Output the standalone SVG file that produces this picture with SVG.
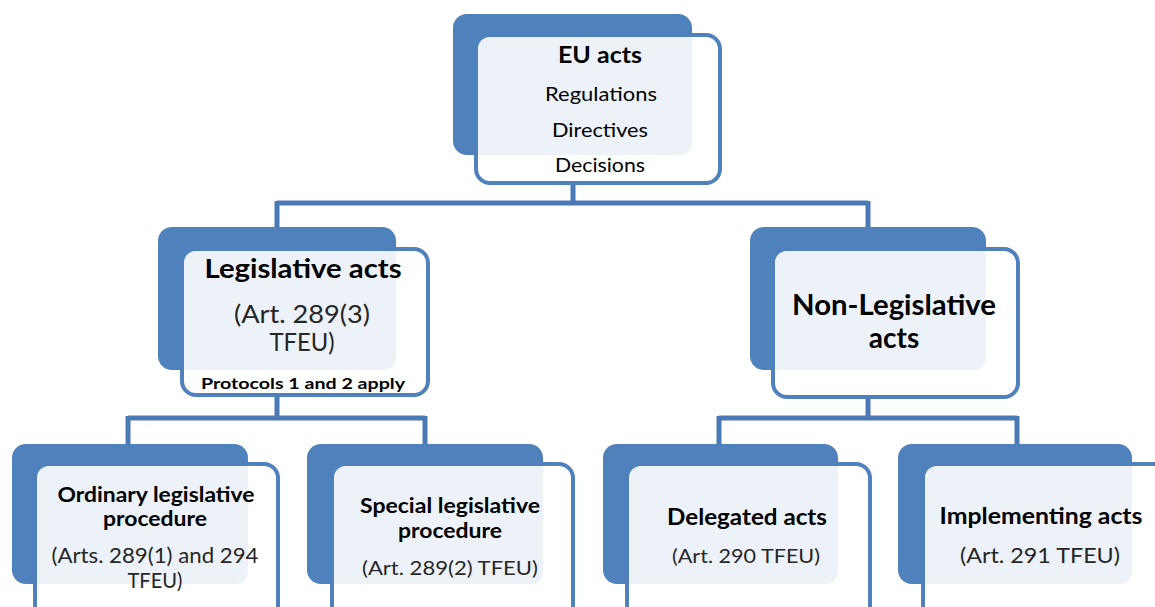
<svg xmlns="http://www.w3.org/2000/svg" width="1155" height="607" viewBox="0 0 1155 607">
<style>
.back{fill:#4F81BD}
.front{fill:#FFFFFF;stroke:#4F81BD;stroke-width:4}
.pale{fill:#EDF2F9}
.conn{fill:none;stroke:#4A7AB5;stroke-width:5}
text{font-family:Lato,"Liberation Sans",sans-serif;text-anchor:middle}
.b{font-weight:bold;fill:#000}
.r{fill:#000}
.n{fill:#262626}
</style>
<rect width="1155" height="607" fill="#FFFFFF"/>
<g id="connectors">
<path class="conn" d="M573 183 V203 M277 203 H868 M277 201 V230 M868 201 V230"/>
<path class="conn" d="M277 395 V418 M128 418 H425 M128 416 V444 M425 416 V444"/>
<path class="conn" d="M868 397 V418 M719 418 H1017 M719 416 V444 M1017 416 V444"/>
</g>
<g id="eu-acts">
<rect class="back" x="453" y="14" width="239" height="141" rx="14"/>
<rect class="front" x="476" y="35" width="244" height="148" rx="14"/>
<path class="pale" d="M492 37 H692 V141 Q692 155 678 155 H478 V51 Q478 37 492 37 Z"/>
<text class="b" x="600" y="63" font-size="23" textLength="84" lengthAdjust="spacingAndGlyphs">EU acts</text>
<text class="r" x="601" y="101" font-size="20" textLength="112" lengthAdjust="spacingAndGlyphs">Regulations</text>
<text class="r" x="600" y="137" font-size="20" textLength="96" lengthAdjust="spacingAndGlyphs">Directives</text>
<text class="r" x="600" y="172" font-size="20" textLength="90" lengthAdjust="spacingAndGlyphs">Decisions</text>
</g>
<g id="legislative-acts">
<rect class="back" x="158" y="227" width="238" height="143" rx="14"/>
<rect class="front" x="182" y="249" width="246" height="146" rx="14"/>
<path class="pale" d="M198 251 H396 V356 Q396 370 382 370 H184 V265 Q184 251 198 251 Z"/>
<text class="b" x="303" y="278" font-size="26" textLength="197" lengthAdjust="spacingAndGlyphs">Legislative acts</text>
<text class="n" x="302" y="323" font-size="25" textLength="136" lengthAdjust="spacingAndGlyphs">(Art. 289(3)</text>
<text class="n" x="302" y="351" font-size="25" textLength="65" lengthAdjust="spacingAndGlyphs">TFEU)</text>
<text class="b" x="303" y="389" font-size="16" textLength="204" lengthAdjust="spacingAndGlyphs">Protocols 1 and 2 apply</text>
</g>
<g id="non-legislative-acts">
<rect class="back" x="750" y="227" width="236" height="143" rx="14"/>
<rect class="front" x="773" y="249" width="245" height="148" rx="14"/>
<path class="pale" d="M789 251 H986 V356 Q986 370 972 370 H775 V265 Q775 251 789 251 Z"/>
<text class="b" x="894" y="315" font-size="28" textLength="204" lengthAdjust="spacingAndGlyphs">Non-Legislative</text>
<text class="b" x="894" y="348" font-size="28">acts</text>
</g>
<g id="ordinary-legislative-procedure">
<rect class="back" x="12" y="444" width="236" height="140" rx="14"/>
<rect class="front" x="35" y="464" width="243" height="160" rx="14"/>
<path class="pale" d="M51 466 H248 V570 Q248 584 234 584 H37 V480 Q37 466 51 466 Z"/>
<text class="b" x="156" y="502" font-size="20" textLength="197" lengthAdjust="spacingAndGlyphs">Ordinary legislative</text>
<text class="b" x="155" y="526" font-size="20" textLength="104" lengthAdjust="spacingAndGlyphs">procedure</text>
<text class="n" x="155" y="563" font-size="21" textLength="207" lengthAdjust="spacingAndGlyphs">(Arts. 289(1) and 294</text>
<text class="n" x="155" y="588" font-size="21" textLength="55" lengthAdjust="spacingAndGlyphs">TFEU)</text>
</g>
<g id="special-legislative-procedure">
<rect class="back" x="307" y="444" width="236" height="140" rx="14"/>
<rect class="front" x="332" y="464" width="241" height="160" rx="14"/>
<path class="pale" d="M348 466 H543 V570 Q543 584 529 584 H334 V480 Q334 466 348 466 Z"/>
<text class="b" x="450" y="513" font-size="20" textLength="180" lengthAdjust="spacingAndGlyphs">Special legislative</text>
<text class="b" x="450" y="538" font-size="20" textLength="104" lengthAdjust="spacingAndGlyphs">procedure</text>
<text class="n" x="450" y="575" font-size="20" textLength="176" lengthAdjust="spacingAndGlyphs">(Art. 289(2) TFEU)</text>
</g>
<g id="delegated-acts">
<rect class="back" x="603" y="444" width="235" height="140" rx="14"/>
<rect class="front" x="627" y="464" width="243" height="160" rx="14"/>
<path class="pale" d="M643 466 H838 V570 Q838 584 824 584 H629 V480 Q629 466 643 466 Z"/>
<text class="b" x="747" y="525" font-size="22" textLength="160" lengthAdjust="spacingAndGlyphs">Delegated acts</text>
<text class="n" x="746" y="563" font-size="20" textLength="148" lengthAdjust="spacingAndGlyphs">(Art. 290 TFEU)</text>
</g>
<g id="implementing-acts">
<rect class="back" x="898" y="444" width="234" height="140" rx="14"/>
<rect class="front" x="923" y="464" width="250" height="160" rx="14"/>
<path class="pale" d="M939 466 H1132 V570 Q1132 584 1118 584 H925 V480 Q925 466 939 466 Z"/>
<text class="b" x="1041" y="524" font-size="22" textLength="203" lengthAdjust="spacingAndGlyphs">Implementing acts</text>
<text class="n" x="1040" y="563" font-size="22" textLength="160" lengthAdjust="spacingAndGlyphs">(Art. 291 TFEU)</text>
</g>
</svg>
